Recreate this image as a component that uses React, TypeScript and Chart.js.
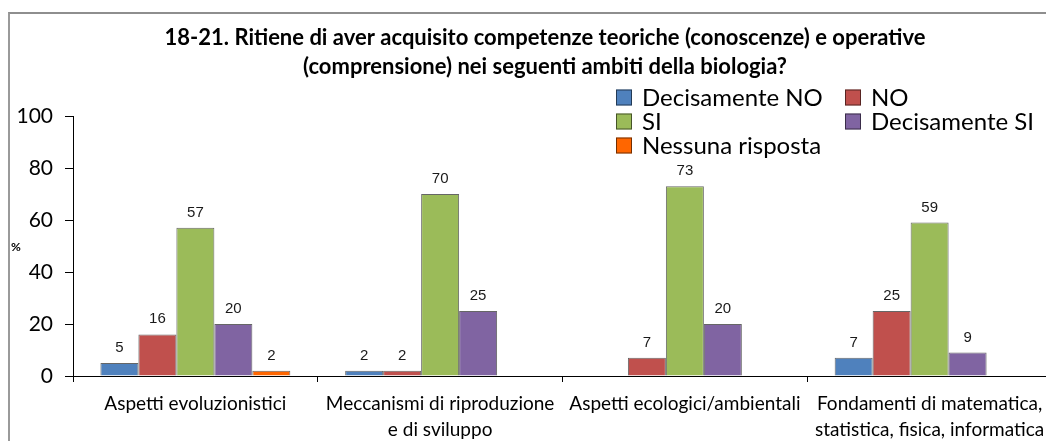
import React, { useEffect, useRef } from "react";
import { Chart, registerables } from "chart.js";

Chart.register(...registerables);

const titleLines = [
  "18-21. Ritiene di aver acquisito competenze teoriche (conoscenze) e operative",
  "(comprensione) nei seguenti ambiti della biologia?",
];
const categories: string[][] = [
  ["Aspetti evoluzionistici"],
  ["Meccanismi di riproduzione", "e di sviluppo"],
  ["Aspetti ecologici/ambientali"],
  ["Fondamenti di matematica,", "statistica, fisica, informatica"],
];
const seriesNames = ["Decisamente NO", "NO", "SI", "Decisamente SI", "Nessuna risposta"];
const decisamenteNo = [5, 2, null, 7];
const no = [16, 2, 7, 25];
const si = [57, 70, 73, 59];
const decisamenteSi = [20, 25, 20, 9];
const nessunaRisposta = [2, null, null, null];
const seriesColors = ["#4F81BD", "#C0504D", "#9BBB59", "#8064A2", "#FF6600"];
const yTicks = [0, 20, 40, 60, 80, 100];
const yAxisLabel = "%";

const FONT = "Lato, 'Liberation Sans', sans-serif";
const LABEL_FONT = "'Liberation Sans', Arial, sans-serif";

const titlePlugin = {
  id: "customTitle",
  afterDraw(chart: any) {
    const ctx = chart.ctx;
    ctx.save();
    ctx.font = `bold 22px ${FONT}`;
    ctx.fillStyle = "#000";
    ctx.textAlign = "center";
    ctx.textBaseline = "middle";
    titleLines.forEach((line, i) => {
      ctx.fillText(line, 537, 30 + i * 29);
    });
    ctx.restore();
  },
};

const dataLabelPlugin = {
  id: "dataLabels",
  afterDatasetsDraw(chart: any) {
    const ctx = chart.ctx;
    ctx.save();
    ctx.font = `15px ${LABEL_FONT}`;
    ctx.fillStyle = "#1a1a1a";
    ctx.textAlign = "center";
    ctx.textBaseline = "alphabetic";
    chart.data.datasets.forEach((ds: any, di: number) => {
      const meta = chart.getDatasetMeta(di);
      meta.data.forEach((el: any, i: number) => {
        const v = ds.data[i];
        if (v === null || v === undefined) return;
        ctx.fillText(String(v), el.x, el.y - 11);
      });
    });
    ctx.restore();
  },
};

const legendPlugin = {
  id: "customLegend",
  afterDraw(chart: any) {
    const ctx = chart.ctx;
    ctx.save();
    ctx.font = `24px ${FONT}`;
    ctx.textBaseline = "middle";
    ctx.textAlign = "left";
    const colX = [608, 837];
    const rowY = [89.5, 113.5, 137.5];
    chart.data.datasets.forEach((ds: any, i: number) => {
      const col = i % 2;
      const row = Math.floor(i / 2);
      const x = colX[col];
      const y = rowY[row];
      ctx.fillStyle = ds.backgroundColor;
      ctx.fillRect(x, y - 8, 16, 16);
      ctx.strokeStyle = "rgba(0,0,0,0.55)";
      ctx.lineWidth = 1;
      ctx.strokeRect(x + 0.5, y - 7.5, 15, 15);
      ctx.fillStyle = "#000";
      ctx.fillText(ds.label, x + 26, y + 1);
    });
    ctx.restore();
  },
};

const axisLabelPlugin = {
  id: "yAxisLabel",
  afterDraw(chart: any) {
    const ctx = chart.ctx;
    ctx.save();
    ctx.font = `bold 12px ${FONT}`;
    ctx.fillStyle = "#000";
    ctx.textAlign = "center";
    ctx.textBaseline = "middle";
    const area = chart.chartArea;
    ctx.fillText(yAxisLabel, 8, (area.top + area.bottom) / 2 + 1);
    ctx.restore();
  },
};

export default function App() {
  const ref = useRef<HTMLCanvasElement | null>(null);
  useEffect(() => {
    if (!ref.current) return;
    const values = [decisamenteNo, no, si, decisamenteSi, nessunaRisposta];
    const chart = new Chart(ref.current, {
      type: "bar",
      data: {
        labels: categories,
        datasets: seriesNames.map((name, i) => ({
          label: name,
          data: values[i],
          backgroundColor: seriesColors[i],
          borderColor: "rgba(0,0,0,0.6)",
          borderWidth: 1,
          categoryPercentage: 0.776,
          barPercentage: 1,
        })),
      },
      options: {
        responsive: false,
        animation: false,
        layout: { padding: { left: 0, right: 2, top: 108, bottom: 0 } },
        plugins: {
          legend: { display: false },
          tooltip: { enabled: false },
          title: { display: false },
        },
        scales: {
          x: {
            grid: {
              display: true,
              drawOnChartArea: false,
              drawTicks: true,
              tickLength: 6,
              color: "#000",
              offset: true,
            },
            border: { display: true, color: "#000", width: 1 },
            ticks: {
              color: "#000",
              font: { family: FONT, size: 19, lineHeight: 26 / 19 },
              padding: 9,
              maxRotation: 0,
              autoSkip: false,
            },
            afterFit(scale: any) {
              scale.height = 65;
            },
          },
          y: {
            min: 0,
            max: 100,
            afterBuildTicks(scale: any) {
              scale.ticks = yTicks.map((v) => ({ value: v }));
            },
            grid: {
              display: true,
              drawOnChartArea: false,
              drawTicks: true,
              tickLength: 8,
              color: "#000",
            },
            border: { display: true, color: "#000", width: 1 },
            ticks: {
              color: "#000",
              font: { family: FONT, size: 21 },
              padding: 12,
            },
            afterFit(scale: any) {
              scale.width = 65;
            },
          },
        },
      },
      plugins: [titlePlugin, dataLabelPlugin, legendPlugin, axisLabelPlugin],
    });
    return () => chart.destroy();
  }, []);

  return (
    <div style={{ position: "relative", width: 1046, height: 433, overflow: "hidden" }}>
      <div
        style={{
          position: "absolute",
          left: 0,
          top: 4,
          width: 1200,
          height: 1000,
          borderTop: "2px solid #8e8e8e",
          borderLeft: "2px solid #9a9a9a",
          boxSizing: "border-box",
        }}
      />
      <canvas
        ref={ref}
        width={1046}
        height={433}
        style={{ position: "absolute", left: 0, top: 0, width: 1046, height: 433 }}
      />
    </div>
  );
}
